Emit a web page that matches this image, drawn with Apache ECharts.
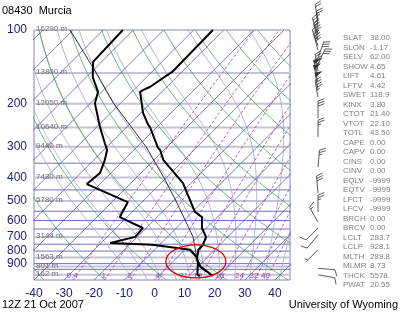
<!DOCTYPE html>
<html>
<head>
<meta charset="utf-8">
<script src="https://cdn.jsdelivr.net/npm/echarts@6/dist/echarts.min.js"></script>
<style>
  html, body { margin: 0; padding: 0; background: #fff; }
  #chart { width: 400px; height: 320px; }
</style>
</head>
<body>
<div id="chart"></div>
<script>
// Skew-T, 08430 Murcia, 12Z 21 Oct 2007

// sounding: temperature (right trace)
const tempP = [1010, 928, 895, 863, 806, 790, 757, 700, 644, 581, 554, 463, 422, 339, 309, 303, 249, 244, 218, 179, 176, 171, 148, 100];
const tempT = [18.0, 11.0, 9.1, 7.1, 5.2, 4.5, 4.5, 2.8, -1.5, -5.1, -9.1, -18.1, -22.7, -37.0, -41.3, -42.7, -52.3, -53.6, -59.3, -67.2, -66.9, -65.6, -63.2, -63.6];
// sounding: dewpoint (left trace)
const dewP = [1010, 1000, 895, 848, 790, 754, 741, 700, 644, 581, 505, 426, 384, 340, 309, 290, 249, 199, 179, 156, 135, 100];
const dewT = [13.8, 12.5, 8.8, 6.5, 1.8, -12.4, -27.0, -20.7, -21.1, -32.4, -34.7, -54.3, -53.6, -56.3, -58.9, -61.9, -68.9, -78.5, -81.2, -87.8, -92.8, -93.5];
// lifted parcel (thin trace)
const parcelP = [1010, 928, 850, 700, 500, 400, 300, 200, 150, 100];
const parcelT = [18.0, 10.5, 6.6, -1.5, -19.0, -31.0, -47.0, -72.0, -88.0, -111.0];

// winds
const windP = [92, 98, 104, 110, 116, 121, 130, 138, 147, 155, 163, 175, 188, 229, 274, 363, 463, 554, 609, 643, 688, 790, 940, 1000];
const windDir = [350, 355, 340, 345, 340, 345, 20, 25, 350, 345, 345, 350, 350, 0, 0, 5, 355, 0, 330, 225, 220, 225, 95, 100];
const windSpd = [20, 25, 35, 40, 45, 40, 30, 30, 45, 50, 55, 50, 45, 30, 25, 25, 30, 25, 15, 10, 10, 5, 10, 10];

// axes
const xTicks = [-40, -30, -20, -10, 0, 10, 20, 30, 40];
const pTicks = [100, 200, 300, 400, 500, 600, 700, 800, 900];

// standard levels and their heights
const hgtP = [100, 150, 200, 250, 300, 400, 500, 700, 850, 925, 1000];
const hgtLabel = ['16290 m', '13800 m', '12050 m', '10640 m', '9440 m', '7430 m', '5780 m', '3144 m', '1563 m', '801 m', '162 m'];
const minorP = [350, 450, 550, 600, 650, 750, 800, 900, 950];

// background line families
const isothermT = [-140, -130, -120, -110, -100, -90, -80, -70, -60, -50, -40, -30, -20, -10, 0, 10, 20, 30, 40];
const thetaC = [-40, -20, 0, 20, 40, 60, 80, 100, 120, 140, 160, 180, 200];
const thetaW = [-10, -5, 0, 5, 10, 15, 20, 25, 30, 35, 40];
const mixW = [0.4, 1, 2, 4, 7, 10, 16, 24, 32, 40];
const mixLabel = ['0.4', '1', '2', '4', '7', '10', '16', '24', '32', '40'];

// stability indices
const idxName = ['SLAT', 'SLON', 'SELV', 'SHOW', 'LIFT', 'LFTV', 'SWET', 'KINX', 'CTOT', 'VTOT', 'TOTL', 'CAPE', 'CAPV', 'CINS', 'CINV', 'EQLV', 'EQTV', 'LFCT', 'LFCV', 'BRCH', 'BRCV', 'LCLT', 'LCLP', 'MLTH', 'MLMR', 'THCK', 'PWAT'];
const idxValue = ['38.00', '-1.17', '62.00', '4.65', '4.61', '4.42', '118.9', '3.80', '21.40', '22.10', '43.50', '0.00', '0.00', '0.00', '0.00', '-9999', '-9999', '-9999', '-9999', '0.00', '0.00', '283.7', '928.1', '289.8', '8.73', '5578.', '20.55'];

// circled area (centre T, p)
const markT = 7.6, markP = 882;

const P_BOT = 1050, P_TOP = 100;
const SKEW = 35.3; // deg C of x shift per unit ln(p)
const NAVY = '#20207a';
const FONT = 'Liberation Sans, Arial, sans-serif';

function pt(T, p) { return [T + SKEW * Math.log(P_BOT / p), Math.log(p)]; }

// pressure samples for curved background lines
const pSamples = [];
for (let p = P_BOT; p >= P_TOP - 0.1; p -= 10) pSamples.push(p);

function es(tc) { return 6.112 * Math.exp(17.67 * tc / (tc + 243.5)); }
function tdFromW(w, p) {
  const e = w * p / (622 + w);
  const l = Math.log(e / 6.112);
  return 243.5 * l / (17.67 - l);
}
function moistCurve(tw) {
  const Rd = 287, Cp = 1004, Lv = 2.5e6;
  const step = function (T, p, dp) {
    const e = es(T - 273.15);
    const rs = 0.622 * e / (p - e);
    const dTdp = (Rd * T + Lv * rs) / (p * (Cp + Lv * Lv * rs * 0.622 / (Rd * T * T)));
    return T + dTdp * dp;
  };
  const pts = [];
  let T = tw + 273.15;
  let Tb = T;
  for (let p = 1000; p < P_BOT; p += 5) Tb = step(Tb, p, 5);
  pts.push(pt(Tb - 273.15, P_BOT));
  for (let p = 1000; p >= P_TOP; p -= 2) {
    if (p % 10 === 0) pts.push(pt(T - 273.15, p));
    T = step(T, p, -2);
  }
  return pts;
}

const isotherms = isothermT.map(t => [pt(t, P_BOT), pt(t, P_TOP)]);
const dryAd = thetaC.map(th => pSamples.map(p => pt((th + 273.15) * Math.pow(p / 1000, 0.2857) - 273.15, p)));
const moistAd = thetaW.map(moistCurve);
const mixLines = mixW.map(w => pSamples.map(p => pt(tdFromW(w, p), p)));
const majorIso = hgtP.map(p => [[-40, Math.log(p)], [45, Math.log(p)]]);
const minorIso = minorP.map(p => [[-40, Math.log(p)], [45, Math.log(p)]]);

function linesSeries(coords, style, z) {
  return {
    type: 'lines', coordinateSystem: 'cartesian2d', polyline: true, silent: true,
    clip: true, z: z, animation: false,
    lineStyle: Object.assign({ opacity: 1, curveness: 0 }, style),
    data: coords.map(c => ({ coords: c }))
  };
}

function traceSeries(P, T, width) {
  return {
    type: 'line', showSymbol: false, symbol: 'none', silent: true, z: 10, animation: false,
    clip: true,
    lineStyle: { color: '#000', width: width },
    data: P.map((p, i) => pt(T[i], p))
  };
}

function barb(bx, by, dir, spd) {
  const a = dir * Math.PI / 180;
  const ux = Math.sin(a), uy = -Math.cos(a);
  const vx = -uy, vy = ux;
  const L = 17;
  const tx = bx + ux * L, ty = by + uy * L;
  const st = { stroke: '#333', lineWidth: 0.8, fill: null };
  const out = [{ type: 'line', shape: { x1: bx, y1: by, x2: tx, y2: ty }, style: st }];
  let s = Math.round(spd / 5) * 5;
  let d = 0;
  while (s >= 50) {
    const x0 = tx - ux * d, y0 = ty - uy * d;
    out.push({ type: 'polygon', shape: { points: [[x0, y0], [x0 - ux * 4, y0 - uy * 4], [x0 + vx * 7, y0 + vy * 7]] }, style: { fill: '#333', stroke: '#333', lineWidth: 0.5 } });
    d += 5; s -= 50;
  }
  while (s >= 10) {
    const x0 = tx - ux * d, y0 = ty - uy * d;
    out.push({ type: 'line', shape: { x1: x0, y1: y0, x2: x0 + (vx * 0.9 + ux * 0.35) * 7, y2: y0 + (vy * 0.9 + uy * 0.35) * 7 }, style: st });
    d += 2.5; s -= 10;
  }
  if (s >= 5) {
    if (d === 0) d = 2.5;
    const x0 = tx - ux * d, y0 = ty - uy * d;
    out.push({ type: 'line', shape: { x1: x0, y1: y0, x2: x0 + (vx * 0.9 + ux * 0.35) * 3.5, y2: y0 + (vy * 0.9 + uy * 0.35) * 3.5 }, style: st });
  }
  return out;
}

const textGraphics = [
  { type: 'text', left: 2, top: 5, style: { text: '08430  Murcia', font: '11px ' + FONT, fill: '#000' } },
  { type: 'text', left: 2, top: 299, style: { text: '12Z 21 Oct 2007', font: '11px ' + FONT, fill: '#000' } },
  { type: 'text', right: 2, top: 299, style: { text: 'University of Wyoming', font: '11px ' + FONT, fill: '#000' } }
];
idxName.forEach((n, i) => {
  const y = 34 + i * 9.5;
  textGraphics.push({ type: 'text', x: 343, y: y, style: { text: n, font: '8px ' + FONT, fill: '#808080' } });
  textGraphics.push({ type: 'text', x: 370, y: y, style: { text: idxValue[i], font: '8px ' + FONT, fill: '#808080' } });
});

const chart = echarts.init(document.getElementById('chart'), null, { renderer: 'canvas' });
chart.setOption({
  animation: false,
  grid: { left: 34, top: 30, width: 256, height: 250, show: true, borderColor: '#8484c4', borderWidth: 1, backgroundColor: 'transparent' },
  xAxis: {
    type: 'value', min: -40, max: 45, interval: 10,
    axisLine: { show: false }, axisTick: { show: false }, splitLine: { show: false },
    axisLabel: { customValues: xTicks, color: NAVY, fontSize: 12, fontFamily: FONT, margin: 8 }
  },
  yAxis: {
    type: 'value', inverse: true, min: Math.log(P_TOP), max: Math.log(P_BOT),
    axisLine: { show: false }, axisTick: { show: false }, splitLine: { show: false },
    axisLabel: {
      customValues: pTicks.map(p => Math.log(p)), color: NAVY, fontSize: 12, fontFamily: FONT, margin: 7,
      formatter: v => String(Math.round(Math.exp(v)))
    }
  },
  graphic: textGraphics,
  series: [
    linesSeries(minorIso, { color: '#7272b8', width: 1 }, 1),
    linesSeries(majorIso, { color: '#c4c4d4', width: 2 }, 1),
    linesSeries(moistAd, { color: '#a4a4cc', width: 0.8 }, 2),
    linesSeries(dryAd, { color: '#3c9a3c', width: 0.7 }, 2),
    linesSeries(isotherms, { color: '#4646aa', width: 0.7 }, 3),
    linesSeries(mixLines, { color: '#a040b0', width: 0.8, type: [3, 2] }, 3),
    {
      type: 'custom', silent: true, z: 6, animation: false,
      data: hgtP.map(p => [-40, Math.log(p)]),
      renderItem: (params, api) => {
        const c = api.coord([api.value(0), api.value(1)]);
        return { type: 'text', x: c[0] + 2, y: c[1] - 1, style: { text: hgtLabel[params.dataIndex], font: '8px ' + FONT, fill: '#707070', verticalAlign: 'middle' } };
      }
    },
    {
      type: 'custom', silent: true, z: 6, animation: false,
      data: mixW.map(w => pt(tdFromW(w, P_BOT), P_BOT)),
      renderItem: (params, api) => {
        const c = api.coord([api.value(0), api.value(1)]);
        return { type: 'text', x: c[0] - 1, y: c[1] - 4, style: { text: mixLabel[params.dataIndex], font: '8px ' + FONT, fill: '#a040b0', align: 'center', verticalAlign: 'middle' } };
      }
    },
    traceSeries(parcelP, parcelT, 0.8),
    traceSeries(dewP, dewT, 2),
    traceSeries(tempP, tempT, 2),
    {
      type: 'custom', silent: true, z: 12, animation: false,
      data: [pt(markT, markP)],
      renderItem: (params, api) => {
        const c = api.coord([api.value(0), api.value(1)]);
        return { type: 'ellipse', shape: { cx: c[0], cy: c[1], rx: 30, ry: 16.5 }, style: { fill: null, stroke: '#e00000', lineWidth: 1.3 } };
      }
    },
    {
      type: 'custom', silent: true, z: 12, animation: false, clip: false,
      data: windP.map((p, i) => [45, Math.log(p), windDir[i], windSpd[i]]),
      renderItem: (params, api) => {
        const c = api.coord([api.value(0), api.value(1)]);
        return { type: 'group', children: barb(c[0] + 28, c[1], api.value(2), api.value(3)) };
      }
    }
  ]
});
</script>
</body>
</html>
